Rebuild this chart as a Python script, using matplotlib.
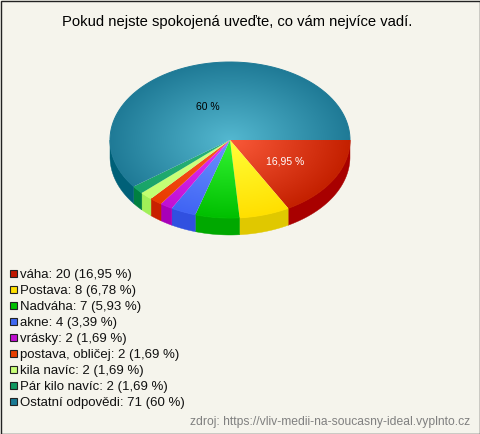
import numpy as np
import matplotlib
matplotlib.use('Agg')
import matplotlib.pyplot as plt
from matplotlib.patches import Polygon, Rectangle
from matplotlib.colors import to_rgb

title = 'Pokud nejste spokojená uveďte, co vám nejvíce vadí.'
source = 'zdroj: https://vliv-medii-na-soucasny-ideal.vyplnto.cz'
labels = ['váha', 'Postava', 'Nadváha', 'akne', 'vrásky', 'postava, obličej',
          'kila navíc', 'Pár kilo navíc', 'Ostatní odpovědi']
counts = [20, 8, 7, 4, 2, 2, 2, 2, 71]
percents = ['16,95', '6,78', '5,93', '3,39', '1,69', '1,69', '1,69', '1,69', '60']
inner = ['#fa5a3a', '#ffff38', '#34f534', '#6c94ff', '#e634f5', '#ff5828', '#d4ff88', '#2cb47c', '#54b8d0']
outer = ['#c42000', '#ffdf00', '#00bf00', '#4064f4', '#c010d4', '#e83c00', '#c0ff70', '#18a468', '#1f7a96']
side = ['#a80000', '#e0c800', '#00a800', '#3050e0', '#a800b8', '#c82000', '#a0f058', '#008040', '#006078']
legend_col = ['#c01800', '#ffe000', '#00c000', '#4068f0', '#c010d0', '#e84000', '#c8ff78', '#109860', '#1a7a94']

W, H = 480, 434
cx, cy, rx, ry, depth = 230, 140, 120, 78, 17
bg = '#f5f4ec'

plt.rcParams['font.family'] = ['Liberation Sans', 'DejaVu Sans']
fig = plt.figure(figsize=(W / 100, H / 100), dpi=100, facecolor=bg)
ax = fig.add_axes([0, 0, 1, 1])
ax.axis('off')

# radial distance in the squashed pie, used for the slice gradients
xs = np.arange(cx - rx - 2, cx + rx + 2) + 0.5
ys = np.arange(cy - ry - 2, cy + ry + 2) + 0.5
gx, gy = np.meshgrid(xs, ys)
dist = np.clip(np.hypot((gx - cx) / rx, (gy - cy) / ry), 0, 1)[..., None]
extent = [xs[0] - 0.5, xs[-1] + 0.5, ys[-1] + 0.5, ys[0] - 0.5]


def arc(a, b):
    t = np.linspace(a, b, max(int(abs(b - a) * 120), 2))
    return cx + rx * np.cos(t), cy + ry * np.sin(t)


edges = np.cumsum([0] + counts) / sum(counts) * 2 * np.pi

# front wall of the pie first
for i in range(len(counts)):
    a, b = edges[i], min(edges[i + 1], np.pi)
    if a >= np.pi:
        continue
    x, y = arc(a, b)
    pts = np.r_[np.c_[x, y], np.c_[x[::-1], y[::-1] + depth]]
    ax.add_patch(Polygon(pts, closed=True, fc=side[i], ec=side[i], lw=0.3, zorder=2))

# top face
for i in range(len(counts)):
    c0 = np.array(to_rgb(inner[i]))
    c1 = np.array(to_rgb(outer[i]))
    x, y = arc(edges[i], edges[i + 1])
    pts = np.r_[[[cx, cy]], np.c_[x, y]]
    clip = Polygon(pts, closed=True, transform=ax.transData)
    im = ax.imshow(c0 + (c1 - c0) * dist, extent=extent, zorder=3, interpolation='bilinear')
    im.set_clip_path(clip)
    ax.plot(x, y, color=outer[i], lw=0.7, zorder=4, solid_capstyle='butt')

ax.text(208, 106.5, percents[8] + ' %', fontsize=7.5, color='black', ha='center', va='center', zorder=5)
ax.text(285, 161, percents[0] + ' %', fontsize=7.5, color='white', ha='center', va='center', zorder=5)

ax.text(237.5, 22.3, title, fontsize=10.62, color='black', ha='center', va='center')

# legend
for i, name in enumerate(labels):
    y = 274 + i * 16
    ax.add_patch(Rectangle((9.8, y - 4.2), 7.4, 7.4, fc=legend_col[i], ec='#222222', lw=0.8))
    ax.text(20, y + 0.8, f'{name}: {counts[i]} ({percents[i]} %)', fontsize=9.58, color='#111111', ha='left', va='center')

ax.text(470, 422, source, fontsize=8.7, color='#808080', ha='right', va='center')

ax.add_patch(Rectangle((0.5, 0.5), W - 1, H - 1, fc='none', ec='#222222', lw=1.0, zorder=6))
ax.set_xlim(0, W)
ax.set_ylim(H, 0)
fig.savefig('out.png', dpi=100, facecolor=bg)
